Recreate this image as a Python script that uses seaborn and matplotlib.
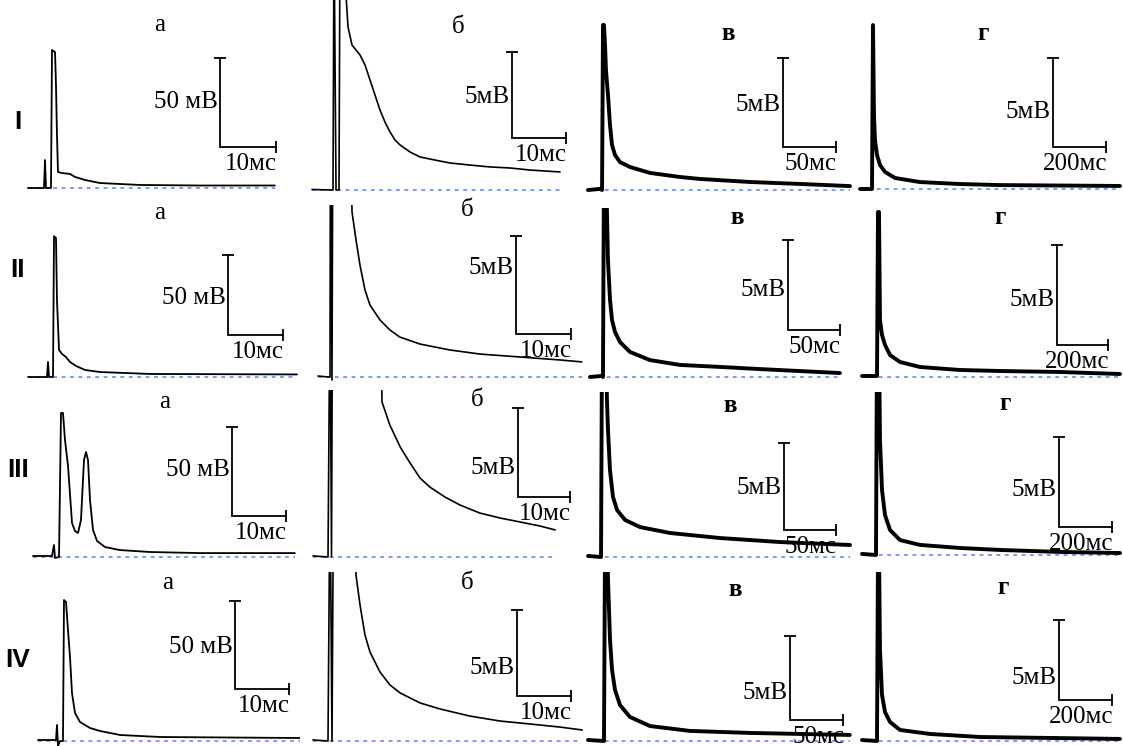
import matplotlib
matplotlib.use("Agg")
import matplotlib.pyplot as plt
import seaborn as sns

sns.set_theme(style="white")
plt.rcParams['font.family'] = ['Liberation Serif', 'DejaVu Serif']
plt.rcParams['text.color'] = 'black'

W, H = 1123, 746

# ---------------- data ----------------
row_labels = ["I", "II", "III", "IV"]
col_labels = ["а", "б", "в", "г"]
scale_mv = [50, 5, 5, 5]
scale_ms = [10, 10, 50, 200]
scale_mv_text = ["50 мВ", "5мВ", "5мВ", "5мВ"]
scale_ms_text = ["10мс", "10мс", "50мс", "200мс"]

# time (ms) and membrane potential relative to baseline (mV)
t_I_a = [-4.3, -1.43, -1.25, -1.07, -0.18, 0, 0.54, 0.71, 0.89, 1.07, 1.79, 3.21, 4.11, 5.89, 8.57, 15.7, 26.4, 39.8]
v_I_a = [0, 0, 15.7, 0, 0, 77.5, 76.4, 57.9, 29.8, 9.0, 8.4, 7.9, 6.2, 4.5, 2.8, 1.7, 1.4, 1.4]
t_I_b = [-3.89, -0.37, 0, 0.19, 0.56, 1.11, 1.30, 1.67, 2.78, 3.52, 4.26, 5.0, 5.93, 6.85, 7.78, 8.70, 9.63, 10.56, 11.48, 12.41, 14.26, 16.11, 18.89, 21.67, 25.37, 29.07, 32.78, 36.48, 42.04]
v_I_b = [0.03, 0, 0, 15, 0, 0, 15, 15, 9.48, 8.43, 8.14, 7.85, 7.27, 6.40, 5.52, 4.65, 3.95, 3.37, 2.91, 2.62, 2.21, 1.92, 1.74, 1.57, 1.45, 1.34, 1.28, 1.16, 1.05]
t_I_c = [-14.2, -2.8, -0.9, 0, 0.9, 1.9, 2.8, 4.7, 6.6, 8.5, 11.3, 16.0, 25.5, 44.3, 72.6, 91.5, 138.7, 185.8, 233]
v_I_c = [0, 0.06, 0, 9.27, 9.27, 8.15, 6.74, 5.34, 3.65, 2.53, 1.97, 1.57, 1.29, 0.96, 0.73, 0.62, 0.45, 0.34, 0.22]
t_I_d = [-49, -3.8, 0, 3.8, 7.5, 15.1, 26.4, 45.3, 83, 177, 328, 479, 932]
v_I_d = [0, 0, 9.21, 4.04, 2.75, 1.91, 1.35, 0.96, 0.62, 0.39, 0.28, 0.22, 0.17]

t_II_a = [-4.9, -1.45, -1.27, -1.09, -0.36, -0.18, 0.18, 0.36, 0.73, 1.27, 2.0, 2.73, 3.82, 5.45, 8.18, 17.3, 44]
v_II_a = [0, 0, 9.4, 0, 0, 88, 86.9, 48, 16.9, 14.4, 12.5, 9.4, 6.9, 4.4, 3.1, 1.9, 1.6]
t_II_b = [-2.36, -0.55, -0.18, -0.09, 0.18, 0.36, 3.45, 3.82, 4.55, 5.27, 6.18, 7.09, 8.91, 10.7, 12.5, 16.2, 21.6, 27.1, 34.4, 41.6, 45.6]
v_II_b = [0.05, 0, 0, 15, -0.15, 15, 15, 8.42, 6.99, 5.71, 4.44, 3.67, 2.91, 2.40, 2.04, 1.68, 1.38, 1.17, 1.02, 0.87, 0.77]
t_II_c = [-13.5, -1.9, -1.0, 0, 1.9, 2.9, 3.8, 5.8, 7.7, 10.6, 15.4, 25, 44.2, 73.1, 111.5, 150, 188.5, 226.9]
v_II_c = [0, 0.06, 0, 12, 12, 9.0, 6.5, 4.28, 3.17, 2.5, 1.94, 1.39, 0.94, 0.67, 0.56, 0.44, 0.33, 0.22]
t_II_d = [-62.7, -3.9, 0, 3.9, 7.8, 15.7, 27.5, 47.1, 86.3, 164.7, 321.6, 478.4, 713.7, 949]
v_II_d = [0.05, 0.05, 8.25, 8.25, 2.85, 2.1, 1.6, 1.1, 0.75, 0.5, 0.35, 0.3, 0.25, 0.15]

t_III_a = [-5.19, -1.67, -1.3, -1.11, -0.37, 0, 0.37, 0.74, 1.30, 2.04, 2.59, 3.15, 3.70, 4.26, 4.63, 5.0, 5.37, 5.93, 6.67, 8.15, 10.9, 16.5, 25.7, 43.3]
v_III_a = [0.56, 0.56, 6.74, -0.56, 0, 80.9, 80.9, 65.7, 51.1, 19.1, 14.6, 13.5, 20.8, 54.5, 59.0, 54.5, 32.0, 15.2, 9.0, 5.6, 3.9, 2.8, 2.2, 2.2]
t_III_b = [-3.27, -0.38, 0, 0.29, 0.48, 9.6, 10.0, 11.5, 13.5, 15.4, 17.3, 19.2, 22.1, 25.0, 28.8, 32.7, 36.5, 40.4, 43.3]
v_III_b = [0.06, 0, 15, 0, 15, 15, 8.71, 7.42, 6.18, 5.28, 4.44, 3.93, 3.37, 2.92, 2.47, 2.19, 1.97, 1.74, 1.52]
t_III_c = [-14.4, -1.9, -1.0, 2.9, 3.8, 4.8, 6.7, 9.6, 13.5, 21.2, 35.6, 64.4, 112.5, 170.2, 237.5]
v_III_c = [0.06, 0, 12, 12, 9.0, 7.3, 5.0, 3.45, 2.7, 2.13, 1.72, 1.38, 1.09, 0.86, 0.69]
t_III_d = [-56.6, -3.8, 0, 7.5, 11.3, 18.9, 30.2, 49.1, 86.8, 162.3, 313.2, 464.2, 690.6, 917]
v_III_d = [0.06, 0, 12, 12, 6.39, 3.61, 2.22, 1.39, 0.83, 0.56, 0.39, 0.28, 0.17, 0.11]

t_IV_a = [-4.81, -1.48, -1.30, -1.11, -0.74, -0.19, 0, 0.37, 0.74, 1.11, 1.48, 2.04, 2.96, 4.81, 6.67, 10.4, 17.8, 43.7]
v_IV_a = [0.57, 0.57, 9.09, -2.84, 0, 0, 80.1, 79.0, 63.1, 47.7, 27.3, 15.9, 10.8, 7.39, 5.68, 3.41, 2.27, 1.7]
t_IV_b = [-3.15, -0.37, 0, 0.37, 0.65, 4.44, 4.81, 5.56, 6.48, 7.41, 9.26, 11.1, 13.0, 16.7, 20.4, 25.9, 31.5, 37.0, 42.6, 46.7]
v_IV_b = [0.06, 0, 15, 0, 15, 15, 9.65, 7.91, 6.16, 5.17, 4.01, 3.26, 2.79, 2.21, 1.86, 1.45, 1.16, 0.99, 0.81, 0.64]
t_IV_c = [-17, -1.9, -0.9, 0.9, 1.9, 3.8, 5.7, 8.5, 13.2, 22.6, 41.5, 79.2, 135.8, 183, 230]
v_IV_c = [0.06, 0, 12, 12, 9.58, 6.01, 4.23, 3.04, 2.14, 1.43, 0.89, 0.6, 0.48, 0.42, 0.36]
t_IV_d = [-60.4, -3.8, 0, 3.8, 7.5, 15.1, 26.4, 45.3, 83, 196, 385, 649, 913]
v_IV_d = [0.06, 0, 12, 12, 5.69, 2.88, 1.81, 1.19, 0.69, 0.44, 0.25, 0.19, 0.13]

traces = [
    [(t_I_a, v_I_a), (t_I_b, v_I_b), (t_I_c, v_I_c), (t_I_d, v_I_d)],
    [(t_II_a, v_II_a), (t_II_b, v_II_b), (t_II_c, v_II_c), (t_II_d, v_II_d)],
    [(t_III_a, v_III_a), (t_III_b, v_III_b), (t_III_c, v_III_c), (t_III_d, v_III_d)],
    [(t_IV_a, v_IV_a), (t_IV_b, v_IV_b), (t_IV_c, v_IV_c), (t_IV_d, v_IV_d)],
]

# ---------------- layout (pixels) ----------------
# t0, base, bar_x, bar_y, bar_top, bar_end, mv_text_y, label_x, label_y, left, right, top
layout = [
    [(52, 188, 220, 147, 58, 276, 102, 160, 25, 25, 300, 0),
     (333, 190, 512, 138, 52, 566, 97, 458, 27, 308, 592, 0),
     (603, 190, 783, 147, 58, 836, 105, 728, 33, 584, 858, 0),
     (873, 189, 1053, 147, 58, 1106, 112, 983, 33, 856, 1123, 0)],
    [(55, 377, 228, 335, 255, 283, 298, 160, 213, 25, 300, 200),
     (331, 377, 516, 334, 236, 571, 268, 467, 210, 308, 592, 205),
     (604, 377, 788, 330, 240, 840, 290, 737, 218, 584, 858, 208),
     (878, 377, 1057, 345, 245, 1108, 300, 1000, 217, 856, 1123, 208)],
    [(61, 557, 232, 516, 427, 286, 470, 165, 402, 25, 300, 390),
     (330, 557, 518, 497, 408, 570, 468, 477, 400, 308, 592, 390),
     (603, 557, 784, 530, 443, 836, 488, 730, 405, 584, 858, 392),
     (877, 555, 1059, 527, 437, 1112, 490, 1005, 403, 856, 1123, 392)],
    [(64, 741, 235, 689, 601, 289, 647, 168, 583, 25, 300, 572),
     (330, 741, 517, 696, 610, 571, 668, 467, 583, 308, 592, 572),
     (606, 741, 790, 720, 636, 843, 693, 735, 590, 584, 858, 572),
     (878, 741, 1059, 700, 620, 1112, 678, 1003, 588, 856, 1123, 572)],
]
roman_y = [122, 270, 470, 660]
trace_lw = [1.3, 1.2, 2.8, 2.8]

fig = plt.figure(figsize=(W / 100, H / 100), dpi=100)
fig.patch.set_facecolor("white")


def fx(px):
    return px / W


def fy(py):
    return 1 - py / H


for r in range(4):
    fig.text(fx(18), fy(roman_y[r]), row_labels[r], family=['Liberation Sans', 'DejaVu Sans'],
             fontweight='bold', fontsize=19, ha='center', va='center', color='black')
    for c in range(4):
        t0, base, bx, by, btop, bend, mvy, lx, ly, left, right, top = layout[r][c]
        pxms = (bend - bx) / scale_ms[c]
        pxmv = (by - btop) / scale_mv[c]
        bottom = base + 8
        ax = fig.add_axes([fx(left), fy(bottom), (right - left) / W, (bottom - top) / H])
        ax.set_xlim((left - t0) / pxms, (right - t0) / pxms)
        ax.set_ylim((base - bottom) / pxmv, (base - top) / pxmv)
        ax.axis('off')
        t, v = traces[r][c]
        # baseline
        ax.plot([t[0], t[-1]], [0, 0], color='#5f7ff0', lw=1.1, ls=(0, (2.5, 3)), zorder=1)
        sns.lineplot(x=t, y=v, ax=ax, sort=False, estimator=None, color='black',
                     lw=trace_lw[c], zorder=2)
        # scale bar
        xb = (bx - t0) / pxms
        yb = (base - by) / pxmv
        ax.plot([xb, xb, xb + scale_ms[c]], [yb + scale_mv[c], yb, yb], color='black', lw=1.3,
                clip_on=False, solid_joinstyle='miter')
        ax.plot([xb], [yb + scale_mv[c]], marker='_', ms=9, mew=1.3, color='black', clip_on=False)
        ax.plot([xb + scale_ms[c]], [yb], marker='|', ms=8, mew=1.3, color='black', clip_on=False)
        # texts
        fig.text(fx(bx - 2), fy(mvy), scale_mv_text[c], fontsize=18, ha='right', va='center',
                 color='black')
        fig.text(fx(bend + 1), fy(by + 17), scale_ms_text[c], fontsize=18, ha='right', va='center',
                 color='black')
        fig.text(fx(lx), fy(ly), col_labels[c], fontsize=18, ha='center', va='center',
                 color='black', fontweight='bold' if c >= 2 else 'normal')

fig.savefig("out.png", dpi=100, facecolor="white")
